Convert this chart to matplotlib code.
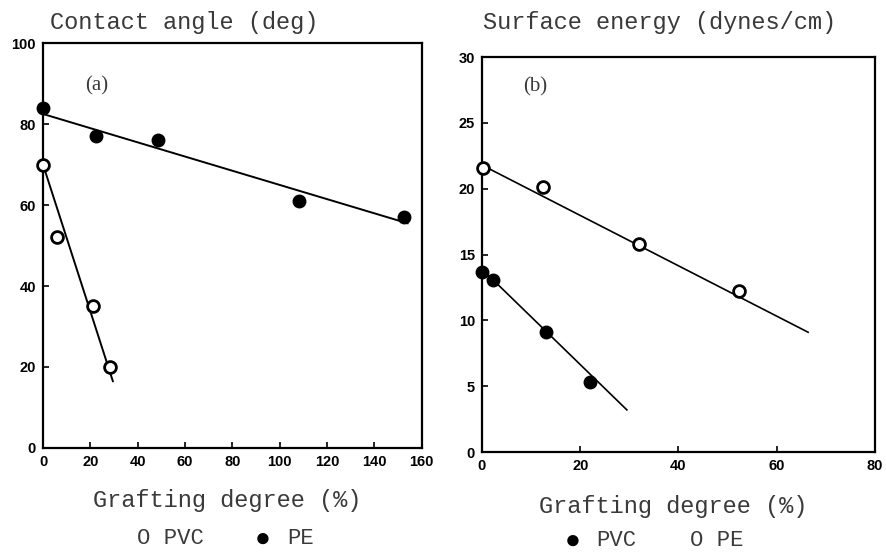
import numpy as np
import matplotlib.pyplot as plt

# (a) contact angle vs grafting degree
a_pvc_x = [0, 6, 21, 28.5]
a_pvc_y = [70, 52, 35, 20]
a_pe_x = [0, 22.5, 48.5, 108, 152.5]
a_pe_y = [84, 77, 76, 61, 57]
a_pvc_fit_x = [0, 29.5]
a_pvc_fit_y = [70, 16.5]
a_pe_fit_x = [0, 154]
a_pe_fit_y = [82.5, 55.5]

# (b) surface energy vs grafting degree
b_pvc_x = [0, 2.2, 13, 22]
b_pvc_y = [13.7, 13.1, 9.1, 5.3]
b_pe_x = [0.2, 12.4, 32, 52.3]
b_pe_y = [21.6, 20.1, 15.8, 12.2]
b_pvc_fit_x = [0, 29.5]
b_pvc_fit_y = [13.9, 3.2]
b_pe_fit_x = [0, 66.4]
b_pe_fit_y = [21.8, 9.1]

a_xticks = [0, 20, 40, 60, 80, 100, 120, 140, 160]
a_yticks = [0, 20, 40, 60, 80, 100]
b_xticks = [0, 20, 40, 60, 80]
b_yticks = [0, 5, 10, 15, 20, 25, 30]

mono = ['Liberation Mono', 'DejaVu Sans Mono']
txt_color = '#3a3a3a'

fig = plt.figure(figsize=(8.87, 5.53), dpi=100)
ax1 = fig.add_axes([0.0485, 0.19, 0.427, 0.732])
ax2 = fig.add_axes([0.5434, 0.1826, 0.443, 0.714])


def style(ax, xt, yt):
    ax.set_xticks(xt)
    ax.set_yticks(yt)
    ax.tick_params(direction='in', length=4, width=1.2, pad=5, labelsize=10.5)
    for lab in ax.get_xticklabels() + ax.get_yticklabels():
        lab.set_fontfamily('Liberation Sans')
        lab.set_fontweight('bold')
    for s in ax.spines.values():
        s.set_linewidth(1.6)


def open_pts(ax, x, y):
    ax.plot(x, y, 'o', ms=8.5, mfc='white', mec='black', mew=2, clip_on=False, zorder=3)


def filled_pts(ax, x, y):
    ax.plot(x, y, 'o', ms=9, color='black', clip_on=False, zorder=3)


# panel (a)
ax1.plot(a_pe_fit_x, a_pe_fit_y, color='black', lw=1.4)
ax1.plot(a_pvc_fit_x, a_pvc_fit_y, color='black', lw=1.4)
filled_pts(ax1, a_pe_x, a_pe_y)
open_pts(ax1, a_pvc_x, a_pvc_y)
ax1.set_xlim(0, 160)
ax1.set_ylim(0, 100)
style(ax1, a_xticks, a_yticks)
ax1.text(0.11, 0.895, '(a)', transform=ax1.transAxes, family='Liberation Serif',
         fontsize=15, color=txt_color, ha='left', va='center')

# panel (b)
ax2.plot(b_pe_fit_x, b_pe_fit_y, color='black', lw=1.2)
ax2.plot(b_pvc_fit_x, b_pvc_fit_y, color='black', lw=1.2)
filled_pts(ax2, b_pvc_x, b_pvc_y)
open_pts(ax2, b_pe_x, b_pe_y)
ax2.set_xlim(0, 80)
ax2.set_ylim(0, 30)
style(ax2, b_xticks, b_yticks)
ax2.text(0.105, 0.925, '(b)', transform=ax2.transAxes, family='Liberation Serif',
         fontsize=15, color=txt_color, ha='left', va='center')

# titles, axis labels and legends as plain text
fig.text(50 / 887, 1 - 22 / 553, 'Contact angle (deg)', family=mono, fontsize=17,
         color=txt_color, ha='left', va='center')
fig.text(483 / 887, 1 - 22 / 553, 'Surface energy (dynes/cm)', family=mono, fontsize=17,
         color=txt_color, ha='left', va='center')
fig.text(227 / 887, 1 - 500 / 553, 'Grafting degree (%)', family=mono, fontsize=17,
         color=txt_color, ha='center', va='center')
fig.text(673 / 887, 1 - 507 / 553, 'Grafting degree (%)', family=mono, fontsize=17,
         color=txt_color, ha='center', va='center')

fig.text(137 / 887, 1 - 539 / 553, 'O PVC', family=mono, fontsize=16,
         color=txt_color, ha='left', va='center')
fig.text(255 / 887, 1 - 539 / 553, '●', family=mono, fontsize=19,
         color='black', ha='left', va='center')
fig.text(287 / 887, 1 - 539 / 553, 'PE', family=mono, fontsize=16,
         color=txt_color, ha='left', va='center')

fig.text(565 / 887, 1 - 541 / 553, '●', family=mono, fontsize=19,
         color='black', ha='left', va='center')
fig.text(596 / 887, 1 - 541 / 553, 'PVC', family=mono, fontsize=16,
         color=txt_color, ha='left', va='center')
fig.text(690 / 887, 1 - 540 / 553, 'O PE', family=mono, fontsize=16,
         color=txt_color, ha='left', va='center')

fig.savefig('out.png', dpi=100)
